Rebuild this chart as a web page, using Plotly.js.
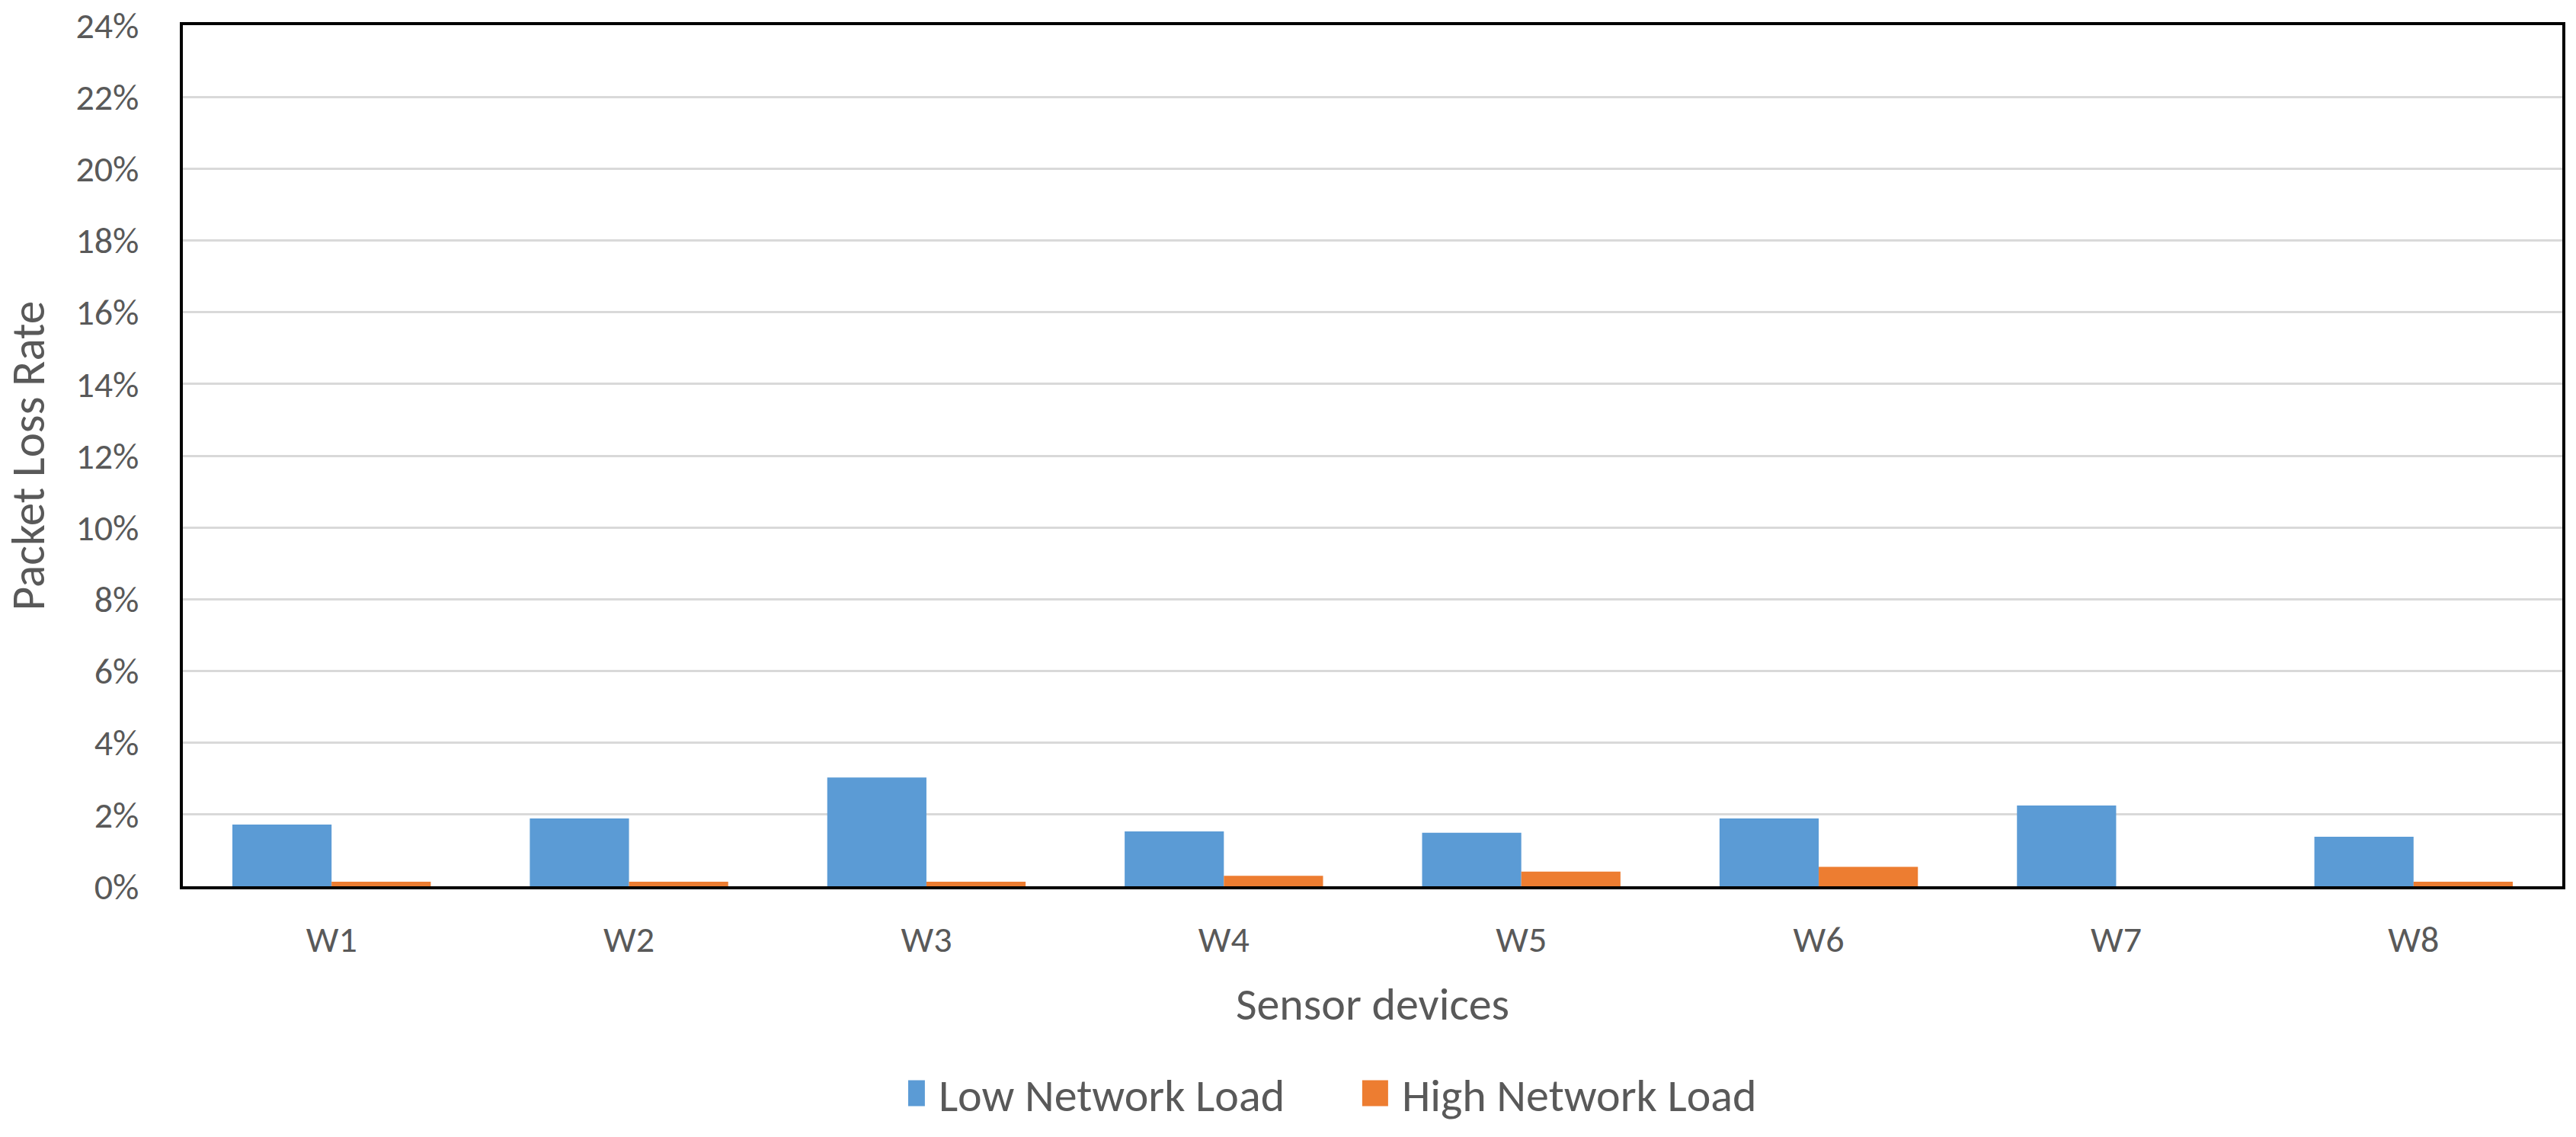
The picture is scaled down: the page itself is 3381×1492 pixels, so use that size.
<!DOCTYPE html>
<html>
<head>
<meta charset="utf-8">
<script src="https://cdn.plot.ly/plotly-3.0.1.min.js"></script>
<style>
  html, body { margin: 0; padding: 0; background: #ffffff; }
  #chart { width: 3381px; height: 1492px; }
</style>
</head>
<body>
<div id="chart"></div>
<script>
// Categories and series values (packet loss rate, as fractions)
const devices = ["W1", "W2", "W3", "W4", "W5", "W6", "W7", "W8"];
const lowLoad = [0.0172, 0.0189, 0.0303, 0.0153, 0.0149, 0.0189, 0.0225, 0.0138];
const highLoad = [0.0013, 0.0013, 0.0013, 0.0029, 0.0041, 0.0054, 0.0000, 0.0013];
const seriesNames = ["Low Network Load", "High Network Load"];
const yTickValues = [0, 0.02, 0.04, 0.06, 0.08, 0.10, 0.12, 0.14, 0.16, 0.18, 0.20, 0.22, 0.24];

const FONT = "Carlito, Lato, 'Liberation Sans', sans-serif";
const TXT = "#595959";

const data = [
  { type: "bar", name: seriesNames[0], x: devices, y: lowLoad,
    marker: { color: "#5B9BD5" }, hoverinfo: "none" },
  { type: "bar", name: seriesNames[1], x: devices, y: highLoad,
    marker: { color: "#ED7D31" }, hoverinfo: "none" }
];

const layout = {
  width: 3381, height: 1492,
  margin: { l: 240, r: 18, t: 33, b: 323, pad: 0 },
  paper_bgcolor: "#ffffff", plot_bgcolor: "#ffffff",
  font: { family: FONT, color: TXT, size: 48 },
  barmode: "group", bargap: 0.333, bargroupgap: 0,
  showlegend: true,
  legend: {
    orientation: "h", x: 0.3048, xanchor: "left", y: -0.2, yanchor: "top",
    font: { family: FONT, size: 60, color: TXT },
    entrywidth: 563, entrywidthmode: "pixels",
    bgcolor: "rgba(0,0,0,0)", borderwidth: 0, traceorder: "normal"
  },
  xaxis: {
    type: "category", showline: true, linecolor: "#000000", linewidth: 4, mirror: true,
    showgrid: false, ticks: "", zeroline: false, fixedrange: true,
    tickfont: { family: FONT, size: 48, color: TXT }, ticklabelstandoff: 24,
    title: { text: "Sensor devices", font: { family: FONT, size: 60, color: TXT }, standoff: 36 }
  },
  yaxis: {
    range: [0, 0.24], tickvals: yTickValues, tickformat: ".0%",
    showline: true, linecolor: "#000000", linewidth: 4, mirror: true,
    showgrid: true, gridcolor: "#D9D9D9", gridwidth: 3, zeroline: false, ticks: "",
    fixedrange: true, ticklabelstandoff: 44,
    tickfont: { family: FONT, size: 48, color: TXT },
    title: { text: "Packet Loss Rate", font: { family: FONT, size: 61, color: TXT }, standoff: 40 }
  }
};

Plotly.newPlot("chart", data, layout, { staticPlot: true, displayModeBar: false }).then(function (gd) {
  // enlarge legend swatches to the reference's square keys, leaving a gap before the text
  gd.querySelectorAll(".legend .legendpoints path").forEach(function (p) {
    p.setAttribute("d", "M2,17H-32V-17H2Z");
  });
});
</script>
</body>
</html>
